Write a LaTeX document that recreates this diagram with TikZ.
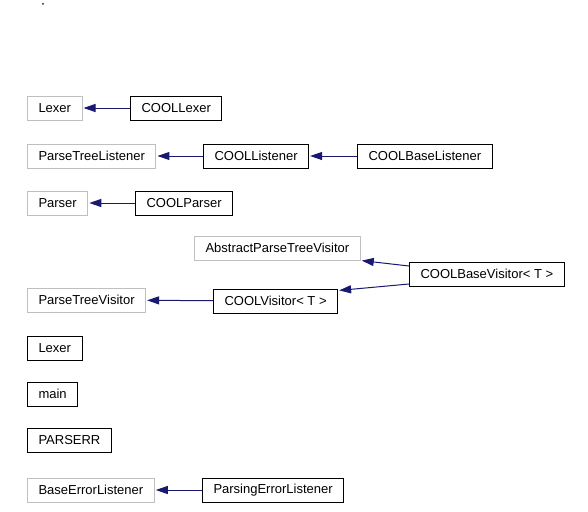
\documentclass[tikz,border=0pt]{standalone}
\usepackage{fontspec}
\setmainfont{Liberation Sans}
\usetikzlibrary{arrows.meta}
\definecolor{edgeblue}{HTML}{191970}
\definecolor{extgray}{HTML}{BFBFBF}
\begin{document}
\begin{tikzpicture}[x=1pt,y=-1pt,line width=1pt,
  every node/.style={draw,anchor=west,minimum height=24pt,inner xsep=11pt,font=\fontsize{13}{15}\selectfont},
  ext/.style={draw=extgray},
  inh/.style={draw=edgeblue,-{Triangle[length=12pt,width=8pt]},shorten >=1pt}]
\useasboundingbox (0,0) rectangle (588,511);
\fill[edgeblue] (43,4) circle (1);
\node[ext] (lexer) at (27,108) {Lexer};
\node (coollexer) at (130,108) {COOLLexer};
\node[ext] (ptlistener) at (27,156) {ParseTreeListener};
\node (coollistener) at (203,156) {COOLListener};
\node (coolbaselistener) at (357,156) {COOLBaseListener};
\node[ext] (parser) at (27,203) {Parser};
\node (coolparser) at (135,203) {COOLParser};
\node[ext] (aptvisitor) at (194,248) {AbstractParseTreeVisitor};
\node (coolbasevisitor) at (409,274) {COOLBaseVisitor< T >};
\node[ext] (ptvisitor) at (27,300) {ParseTreeVisitor};
\node (coolvisitor) at (213,301) {COOLVisitor< T >};
\node (lexer2) at (27,348) {Lexer};
\node (main) at (27,394) {main};
\node (parserr) at (27,440) {PARSERR};
\node[ext] (baseerr) at (27,490) {BaseErrorListener};
\node (parsingerr) at (202,490) {ParsingErrorListener};
\draw[inh] (coollexer) -- (lexer);
\draw[inh] (coollistener) -- (ptlistener);
\draw[inh] (coolbaselistener) -- (coollistener);
\draw[inh] (coolparser) -- (parser);
\draw[inh] ([yshift=8pt]coolbasevisitor.west) -- (aptvisitor.south east);
\draw[inh] ([yshift=-10pt]coolbasevisitor.west) -- ([yshift=-2pt]coolvisitor.north east);
\draw[inh] (coolvisitor) -- (ptvisitor);
\draw[inh] (parsingerr) -- (baseerr);
\end{tikzpicture}
\end{document}
